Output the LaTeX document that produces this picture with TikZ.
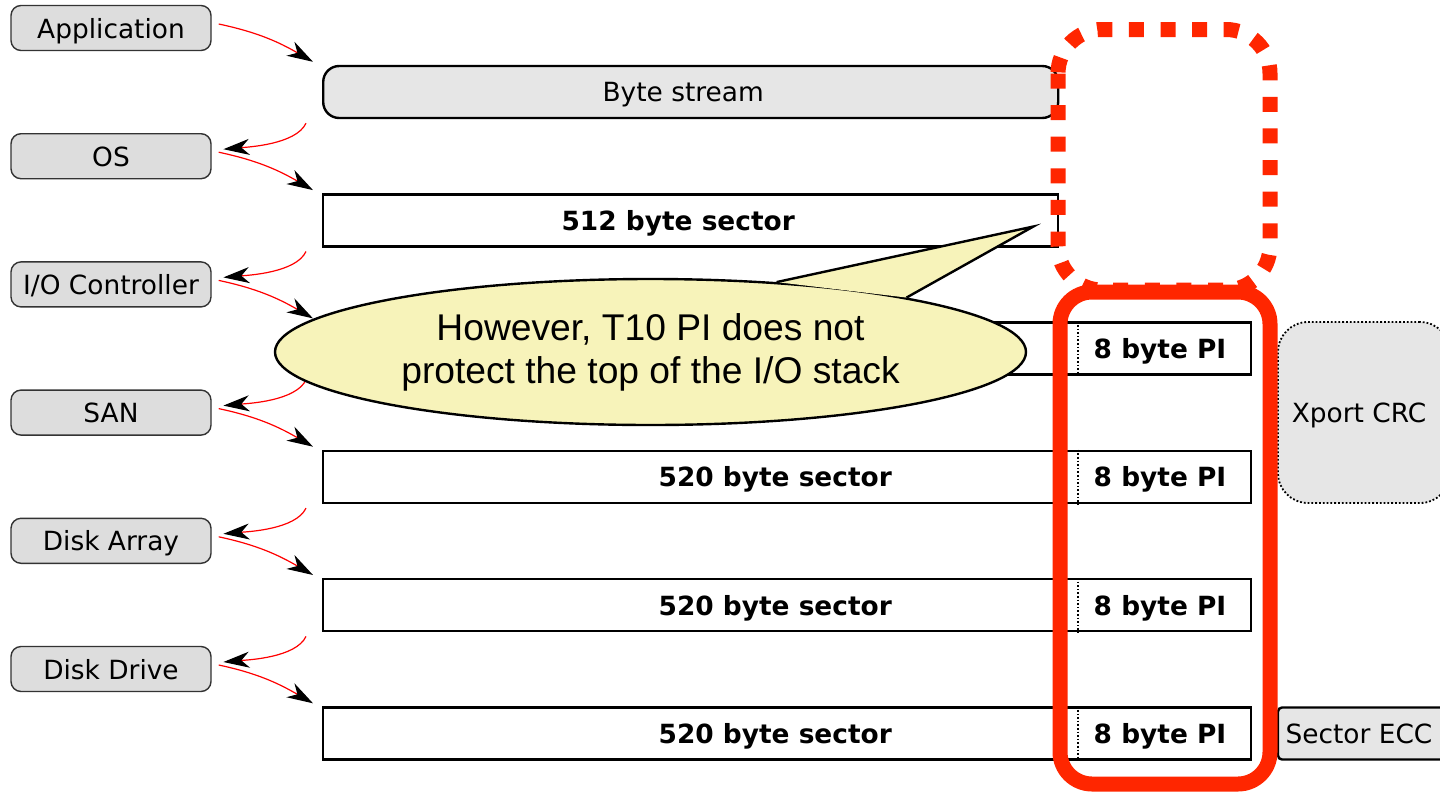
\documentclass[tikz,border=0pt]{standalone}
\usepackage{fontspec}
\setmainfont{DejaVu Sans}
\newfontfamily\notefont{Liberation Sans}
\usetikzlibrary{arrows.meta,shapes.geometric}
\definecolor{hired}{RGB}{255,38,0}
\definecolor{boxgray}{RGB}{230,230,230}
\definecolor{laygray}{RGB}{221,221,221}
\definecolor{noteyellow}{RGB}{247,243,186}
\tikzset{
    layer/.style={draw=black!80, fill=laygray, rounded corners=5pt, line width=0.7pt, text depth=0pt,
        minimum width=100pt, minimum height=22.5pt, inner sep=0pt, font=\fontsize{13.2}{15}\selectfont},
    sector/.style={draw, fill=white, line width=1.2pt, minimum height=26pt, anchor=west, text depth=0pt,
        inner sep=0pt, font=\fontsize{13.2}{15}\selectfont\bfseries},
    pitext/.style={inner sep=0pt, text depth=0pt, font=\fontsize{13.2}{15}\selectfont\bfseries},
    flow/.style={red, line width=0.6pt, -{Stealth[color=black, length=13pt, width=8pt, inset=4pt]}},
}
\begin{document}
\begin{tikzpicture}[x=0.5pt, y=0.5pt]
    \fill[white] (0,0) rectangle (1440,-793);
    \useasboundingbox (0,0) rectangle (1440,-793);
    % layers on the left
    \foreach \i/\txt in {1/Application, 2/OS, 3/{I/O Controller}, 4/SAN, 5/Disk Array, 6/Disk Drive}{
        \node[layer] (lay\i) at (111,{-28-128.2*(\i-1)}) {\txt};
    }
    % sectors
    \node[sector, fill=boxgray, rounded corners=8pt, font=\fontsize{13.2}{15}\selectfont,
        minimum width=367.5pt] (sec1) at (322,-92) {Byte stream\hspace*{7.5pt}};
    \node[sector, minimum width=367.5pt] (sec2) at (322,-220.3) {512 byte sector\hspace*{12.5pt}};
    \foreach \i/\txt in {3/{}, 4/{520 byte sector}, 5/{520 byte sector}, 6/{520 byte sector}}{
        \node[sector, minimum width=464pt] (sec\i) at (322,{-92-128.3*(\i-1)}) {\txt\hspace*{12pt}};
        \draw[densely dotted, line width=0.8pt] ([xshift=378pt]sec\i.north west) -- ([xshift=378pt]sec\i.south west);
        \node[pitext] (pi\i) at ([xshift=419pt]sec\i.west) {8 byte PI};
    }
    \node[draw, densely dotted, fill=boxgray, rounded corners=15pt, line width=0.9pt, text depth=0pt,
        minimum width=86pt, minimum height=90.5pt, font=\fontsize{13.2}{15}\selectfont] (crc) at (1364,-412.5) {Xport CRC\hspace*{5pt}};
    \node[draw, fill=boxgray, rounded corners=2pt, line width=1.2pt, text depth=0pt,
        minimum width=86pt, minimum height=26pt, font=\fontsize{13.2}{15}\selectfont] (ecc) at (1364,-733.5) {Sector ECC\hspace*{5pt}};
    % data passing down the stack
    \foreach \i in {1,...,6}{
        \draw[flow] ([shift={(7,4)}]lay\i.east) to[out=-12, in=150] ([shift={(-9,3)}]sec\i.north west);
    }
    \foreach \i [evaluate=\i as \j using int(\i+1)] in {1,...,5}{
        \draw[flow] ([shift={(-16,-4)}]sec\i.south west) to[out=245, in=5, looseness=0.7] ([shift={(11.7,7)}]lay\j.east);
    }
    % callout
    \coordinate (tip) at ([shift={(-26,21)}]sec2.south east);
    \node[ellipse, draw, fill=noteyellow, line width=1.2pt, minimum width=375.5pt, minimum height=73pt,
        inner sep=0pt, align=center, font=\notefont\fontsize{18.6}{21.5}\selectfont] (note) at (650.5,-352)
        {However, T10 PI does not\\protect the top of the I/O stack};
    \fill[noteyellow] (note.29) -- (tip) -- (note.12.5) -- cycle;
    \draw[line width=1.2pt] (note.29) -- (tip) -- (note.12.5);
    % protected range
    \draw[hired, line width=7.5pt, dash pattern=on 7.5pt off 8.3pt, rounded corners=22pt] (1058,-29.5) rectangle (1270,-290);
    \draw[hired, line width=7.5pt, rounded corners=16pt] (1060,-292) rectangle (1270,-784);
\end{tikzpicture}
\end{document}
